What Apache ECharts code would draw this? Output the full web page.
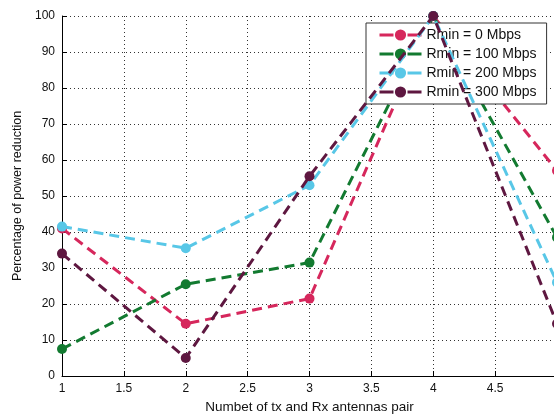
<!DOCTYPE html>
<html>
<head>
<meta charset="utf-8">
<script src="https://cdn.jsdelivr.net/npm/echarts@6/dist/echarts.min.js"></script>
<style>
  html, body { margin: 0; padding: 0; background: #fff; }
  #chart { width: 554px; height: 414px; }
</style>
</head>
<body>
<div id="chart"></div>
<script>
// Number of tx/Rx antenna pairs
const antennaPairs = [1, 2, 3, 4, 5];

// Power reduction (%) for each minimum rate requirement
const rmin0   = [41, 14.5, 21.5, 100, 57];
const rmin100 = [7.5, 25.5, 31.5, 100, 38.5];
const rmin200 = [41.5, 35.5, 53, 100, 26];
const rmin300 = [34, 5, 55.5, 100, 14.5];

const seriesNames = ['Rmin = 0 Mbps', 'Rmin = 100 Mbps', 'Rmin = 200 Mbps', 'Rmin = 300 Mbps'];
const seriesColors = ['#d6275c', '#127a30', '#58c7e7', '#5e1740'];
const seriesValues = [rmin0, rmin100, rmin200, rmin300];

const xTickLabels = ['1', '1.5', '2', '2.5', '3', '3.5', '4', '4.5', '5'];
const yTicks = [0, 10, 20, 30, 40, 50, 60, 70, 80, 90, 100];

const FONT = 'Liberation Sans, Arial, sans-serif';

const gridLine = { show: true, lineStyle: { color: '#333', width: 1, type: [1, 3] } };

const chart = echarts.init(document.getElementById('chart'), null, { renderer: 'canvas' });

chart.setOption({
  animation: false,
  backgroundColor: '#fff',
  grid: {
    left: 62, top: 16, width: 495, height: 360,
    containLabel: false,
    outerBoundsMode: 'none'
  },
  legend: {
    data: seriesNames,
    orient: 'vertical',
    left: 366,
    top: 23,
    padding: [5, 10, 5, 12],
    itemGap: 5,
    itemWidth: 42,
    itemHeight: 14,
    backgroundColor: '#fff',
    borderColor: '#333',
    borderWidth: 1,
    borderRadius: 0,
    lineStyle: { type: [14, 14], width: 3 },
    textStyle: { fontFamily: FONT, fontSize: 14, color: '#111' }
  },
  xAxis: {
    type: 'value',
    min: 1,
    max: 5,
    interval: 0.5,
    name: 'Numbet of tx and Rx antennas pair',
    nameLocation: 'middle',
    nameGap: 24,
    nameTextStyle: { fontFamily: FONT, fontSize: 13.5, color: '#111' },
    axisLine: { show: true, onZero: false, lineStyle: { color: '#000', width: 1 } },
    axisTick: { show: true, inside: true, length: 5, lineStyle: { color: '#000' } },
    axisLabel: {
      fontFamily: FONT, fontSize: 12, color: '#111', margin: 7,
      showMaxLabel: true,
      formatter: v => xTickLabels[Math.round((v - 1) / 0.5)] ?? ''
    },
    splitLine: gridLine
  },
  yAxis: {
    type: 'value',
    min: yTicks[0],
    max: yTicks[yTicks.length - 1],
    interval: 10,
    name: 'Percentage of power reduction',
    nameLocation: 'middle',
    nameGap: 38,
    nameTextStyle: { fontFamily: FONT, fontSize: 12.5, color: '#111' },
    axisLine: { show: true, lineStyle: { color: '#000', width: 1 } },
    axisTick: { show: true, inside: true, length: 5, lineStyle: { color: '#000' } },
    axisLabel: { fontFamily: FONT, fontSize: 12, color: '#111', margin: 7 },
    splitLine: gridLine
  },
  series: seriesValues.map((vals, i) => ({
    name: seriesNames[i],
    type: 'line',
    data: antennaPairs.map((x, j) => [x, vals[j]]),
    color: seriesColors[i],
    symbol: 'circle',
    symbolSize: 10,
    showAllSymbol: true,
    clip: false,
    lineStyle: { width: 3, type: [10, 6], color: seriesColors[i] },
    itemStyle: { color: seriesColors[i] },
    z: 2 + i
  }))
});
</script>
</body>
</html>
